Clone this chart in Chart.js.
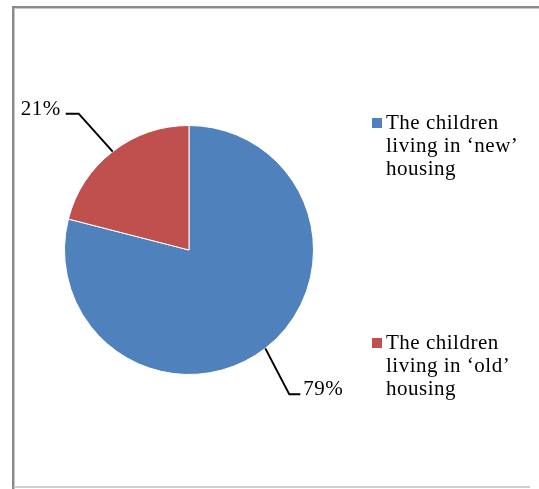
<!DOCTYPE html>
<html>
<head>
<meta charset="utf-8">
<script src="https://cdn.jsdelivr.net/npm/chart.js@4/dist/chart.umd.min.js"></script>
<style>
  html, body { margin: 0; padding: 0; background: #fff; }
  #wrap { width: 539px; height: 489px; position: relative; }
</style>
</head>
<body>
<div id="wrap"><canvas id="c" width="539" height="489"></canvas></div>
<script>
// Share of children by type of housing
const categories = ["The children living in \u2018new\u2019 housing", "The children living in \u2018old\u2019 housing"];
const shares = [79, 21];
const sliceColors = ["#4F81BD", "#C0504D"];

const FONT = '21px "Liberation Serif", "Times New Roman", serif';
const SPACING = '0.5px';

// Outer frame of the chart panel
const framePlugin = {
  id: 'frame',
  beforeDraw(chart) {
    const ctx = chart.ctx;
    ctx.save();
    ctx.fillStyle = '#fff';
    ctx.fillRect(0, 0, chart.width, chart.height);
    ctx.fillStyle = '#8a8a8a';
    ctx.fillRect(12, 6, chart.width - 12, 2);
    ctx.fillRect(12, 6, 2, chart.height - 6);
    ctx.fillStyle = '#c8c8c8';
    ctx.fillRect(14, 8, chart.width - 14, 1);
    ctx.fillRect(14, 8, 1, chart.height - 8);
    ctx.fillStyle = '#cfcfcf';
    ctx.fillRect(14, 486, 516, 2);
    ctx.restore();
  }
};

// Percentage labels with elbow leader lines
const leaderPlugin = {
  id: 'leaders',
  afterDatasetsDraw(chart, args, opts) {
    const ctx = chart.ctx;
    const meta = chart.getDatasetMeta(0);
    const data = chart.data.datasets[0].data;
    const total = data.reduce((a, b) => a + b, 0);
    ctx.save();
    ctx.strokeStyle = '#000';
    ctx.lineWidth = 2;
    ctx.fillStyle = '#000';
    ctx.font = FONT;
    ctx.letterSpacing = SPACING;
    ctx.textBaseline = 'alphabetic';
    meta.data.forEach((arc, i) => {
      const p = arc.getProps(['x', 'y', 'startAngle', 'endAngle', 'outerRadius'], true);
      const mid = (p.startAngle + p.endAngle) / 2;
      const ex = p.x + Math.cos(mid) * p.outerRadius;
      const ey = p.y + Math.sin(mid) * p.outerRadius;
      const o = opts.offsets[i];
      const kx = ex + o.dx, ky = ey + o.dy;
      const hx = kx + o.h;
      ctx.beginPath();
      ctx.moveTo(ex, ey);
      ctx.lineTo(kx, ky);
      ctx.lineTo(hx, ky);
      ctx.stroke();
      const txt = Math.round(data[i] / total * 100) + '%';
      if (o.h < 0) {
        ctx.textAlign = 'right';
        ctx.fillText(txt, hx - 5, ky + 1);
      } else {
        ctx.textAlign = 'left';
        ctx.fillText(txt, hx + 3, ky + 1);
      }
    });
    ctx.restore();
  }
};

// Legend with word-wrapped entries
const wrapLegendPlugin = {
  id: 'wrapLegend',
  afterDraw(chart, args, opts) {
    const ctx = chart.ctx;
    const ds = chart.data.datasets[0];
    ctx.save();
    ctx.font = FONT;
    ctx.letterSpacing = SPACING;
    ctx.textAlign = 'left';
    ctx.textBaseline = 'alphabetic';
    chart.data.labels.forEach((label, i) => {
      const top = opts.tops[i];
      ctx.fillStyle = ds.backgroundColor[i];
      ctx.fillRect(opts.x, top, 10, 10);
      const words = label.split(' ');
      const lines = [];
      let cur = '';
      words.forEach(w => {
        const t = cur ? cur + ' ' + w : w;
        if (ctx.measureText(t).width > opts.maxWidth && cur) {
          lines.push(cur);
          cur = w;
        } else {
          cur = t;
        }
      });
      if (cur) lines.push(cur);
      ctx.fillStyle = '#000';
      lines.forEach((ln, j) => {
        ctx.fillText(ln, opts.x + 14, top + 11 + j * opts.lineHeight);
      });
    });
    ctx.restore();
  }
};

new Chart(document.getElementById('c'), {
  type: 'pie',
  data: {
    labels: categories,
    datasets: [{
      data: shares,
      backgroundColor: sliceColors,
      borderColor: '#ffffff',
      borderWidth: 1
    }]
  },
  options: {
    responsive: false,
    animation: false,
    events: [],
    layout: { padding: { left: 64, right: 225, top: 125, bottom: 114 } },
    plugins: {
      legend: { display: false },
      tooltip: { enabled: false },
      leaders: {
        offsets: [
          { dx: 24, dy: 46, h: 11 },
          { dx: -34, dy: -38, h: -13 }
        ]
      },
      wrapLegend: { x: 372, tops: [118, 338], maxWidth: 145, lineHeight: 23 }
    }
  },
  plugins: [framePlugin, leaderPlugin, wrapLegendPlugin]
});
</script>
</body>
</html>
